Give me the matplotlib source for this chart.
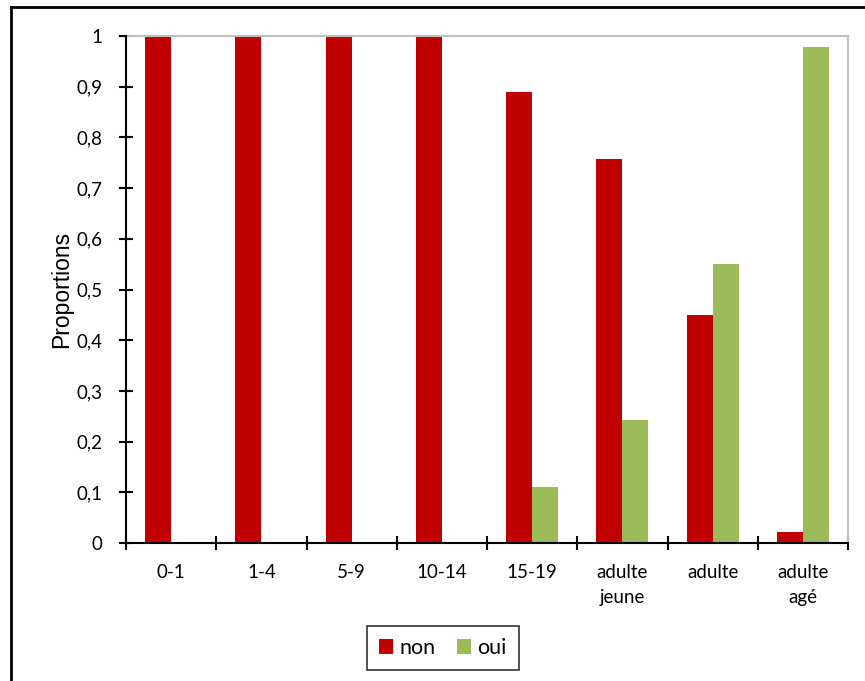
import matplotlib
matplotlib.use("Agg")
import matplotlib.pyplot as plt
import numpy as np
from matplotlib.lines import Line2D
from matplotlib.patches import Patch
from matplotlib.ticker import FuncFormatter, FixedLocator

categories = ["0-1", "1-4", "5-9", "10-14", "15-19", "adulte\njeune", "adulte", "adulte\nagé"]
non_vals = [1.0, 1.0, 1.0, 1.0, 0.889, 0.757, 0.450, 0.021]
oui_vals = [0.0, 0.0, 0.0, 0.0, 0.111, 0.243, 0.550, 0.979]
series_names = ["non", "oui"]
y_ticks = [0.0, 0.1, 0.2, 0.3, 0.4, 0.5, 0.6, 0.7, 0.8, 0.9, 1.0]

RED = "#C00000"
GREEN = "#9BBB59"
FONT = "Lato"
TS = 13.5

W, H = 865, 681
fig = plt.figure(figsize=(W / 100, H / 100), dpi=100)
ax = fig.add_axes([126 / W, 1 - 543 / H, (848 - 126) / W, (543 - 36) / H])

x = np.arange(len(categories))
bw = 0.288
ax.bar(x - bw / 2, non_vals, width=bw, color=RED, label=series_names[0], zorder=2)
ax.bar(x + bw / 2, oui_vals, width=bw, color=GREEN, label=series_names[1], zorder=2)

ax.set_xlim(-0.5, len(categories) - 0.5)
ax.set_ylim(0, 1)

# spines
for s in ["top", "right"]:
    ax.spines[s].set_color("#BFBFBF")
    ax.spines[s].set_linewidth(1.5)
for s in ["left", "bottom"]:
    ax.spines[s].set_color("black")
    ax.spines[s].set_linewidth(1.5)
    ax.spines[s].set_zorder(3)

# y ticks
ax.yaxis.set_major_locator(FixedLocator(y_ticks))
def yfmt(v, pos):
    if abs(v) < 1e-9:
        return "0"
    if abs(v - 1) < 1e-9:
        return "1"
    return ("%.1f" % v).replace(".", ",")
ax.yaxis.set_major_formatter(FuncFormatter(yfmt))
ax.tick_params(axis="y", direction="inout", length=10, width=1.5, pad=12,
               labelsize=TS, colors="black")

# x ticks: labels at centers, tick marks at boundaries
ax.set_xticks(x)
ax.set_xticklabels(categories, fontsize=TS, fontfamily=FONT, linespacing=1.6)
ax.set_xticks(np.arange(-0.5, len(categories)), minor=True)
ax.tick_params(axis="x", which="major", length=0, pad=15, labelsize=TS)
ax.tick_params(axis="x", which="minor", direction="inout", length=10, width=1.5)
for lbl in ax.get_yticklabels():
    lbl.set_fontfamily(FONT)

ax.set_ylabel("Proportions", fontsize=16.5, fontfamily="Liberation Sans")
ax.yaxis.set_label_coords(-0.0734, 0.5)

# legend
handles = [Patch(facecolor=RED, label="non"), Patch(facecolor=GREEN, label="oui")]
leg = fig.legend(handles=handles, loc="center", bbox_to_anchor=(443 / W, 1 - 648 / H),
                 ncol=2, frameon=True, fancybox=False, edgecolor="black",
                 prop={"family": FONT, "size": 15.5}, handlelength=0.65, handleheight=0.65,
                 handletextpad=0.3, columnspacing=1.0, borderpad=0.55)
leg.get_frame().set_linewidth(1.2)

# outer frame (partially cropped)
fig.add_artist(Line2D([11 / W, 11 / W], [0, 1 - 7 / H], transform=fig.transFigure,
                      color="black", linewidth=2))
fig.add_artist(Line2D([11 / W, 1], [1 - 7 / H, 1 - 7 / H], transform=fig.transFigure,
                      color="black", linewidth=2))

fig.savefig("out.png", dpi=100)
